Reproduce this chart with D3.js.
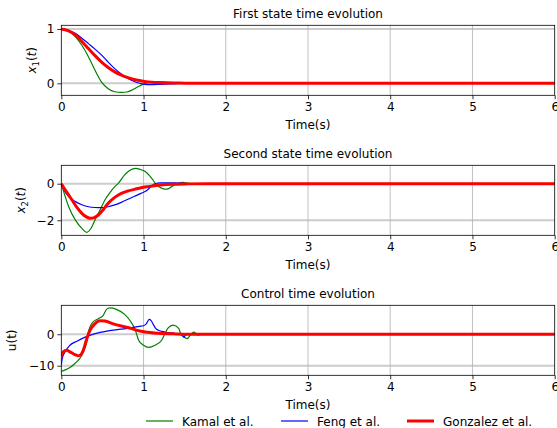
<!DOCTYPE html>
<html>
<head>
<meta charset="utf-8">
<script src="https://cdn.jsdelivr.net/npm/d3@7"></script>
<style>
  body { margin: 0; background: #fff; }
  text { font-family: "DejaVu Sans", sans-serif; }
</style>
</head>
<body>
<div id="chart"></div>
<script>
// time ticks shared by all three panels
var timeTicks = [0, 1, 2, 3, 4, 5, 6];

// first state x1(t)
var kamalX1T = [0, 0.05, 0.1, 0.17, 0.25, 0.33, 0.41, 0.49, 0.57, 0.65, 0.73, 0.8, 0.85, 0.95, 1.0, 1.07, 1.14, 1.25, 1.4, 1.6, 2, 6];
var kamalX1  = [1, 0.99, 0.96, 0.86, 0.70, 0.49, 0.24, 0.02, -0.10, -0.155, -0.168, -0.16, -0.13, -0.05, -0.015, 0.015, 0.03, 0.025, 0.01, 0, 0, 0];
var fengX1T  = [0, 0.08, 0.17, 0.25, 0.33, 0.41, 0.49, 0.57, 0.65, 0.73, 0.81, 0.88, 0.93, 1.0, 1.08, 1.2, 1.35, 1.5, 2, 6];
var fengX1   = [1, 0.98, 0.92, 0.83, 0.73, 0.63, 0.52, 0.39, 0.27, 0.17, 0.09, 0.04, 0.01, -0.015, -0.025, -0.02, -0.01, 0, 0, 0];
var gonzX1T  = [0, 0.08, 0.17, 0.25, 0.33, 0.41, 0.49, 0.57, 0.65, 0.73, 0.81, 0.93, 1.01, 1.1, 1.2, 1.35, 1.5, 1.8, 6];
var gonzX1   = [1, 0.97, 0.89, 0.77, 0.64, 0.51, 0.39, 0.29, 0.21, 0.15, 0.105, 0.055, 0.035, 0.02, 0.012, 0.006, 0.003, 0, 0];

// second state x2(t)
var kamalX2T = [0, 0.09, 0.17, 0.25, 0.31, 0.36, 0.41, 0.47, 0.53, 0.59, 0.65, 0.69, 0.77, 0.84, 0.9, 0.96, 1.02, 1.10, 1.16, 1.21, 1.26, 1.3, 1.34, 1.42, 1.48, 1.54, 1.6, 6];
var kamalX2  = [0, -1.26, -1.98, -2.44, -2.66, -2.45, -1.98, -1.45, -0.89, -0.50, -0.16, 0, 0.48, 0.75, 0.84, 0.78, 0.66, 0.29, -0.07, -0.22, -0.30, -0.28, -0.16, 0.02, 0.07, 0.02, 0, 0];
var fengX2T  = [0, 0.04, 0.09, 0.17, 0.25, 0.33, 0.41, 0.49, 0.57, 0.65, 0.73, 0.81, 0.89, 0.97, 1.03, 1.07, 1.1, 1.13, 1.17, 1.21, 1.29, 1.37, 1.45, 1.52, 6];
var fengX2   = [0, -0.4, -0.71, -0.98, -1.15, -1.26, -1.30, -1.31, -1.26, -1.16, -1.02, -0.85, -0.69, -0.53, -0.40, -0.25, -0.12, -0.02, 0.03, 0.05, 0.05, 0.05, 0.03, 0, 0];
var gonzX2T  = [0, 0.06, 0.13, 0.19, 0.25, 0.30, 0.35, 0.40, 0.45, 0.51, 0.57, 0.65, 0.73, 0.81, 0.89, 0.97, 1.05, 1.13, 1.21, 1.35, 1.54, 1.8, 6];
var gonzX2   = [0, -0.42, -0.89, -1.30, -1.62, -1.80, -1.89, -1.85, -1.71, -1.42, -1.07, -0.75, -0.53, -0.40, -0.31, -0.22, -0.16, -0.11, -0.07, -0.03, -0.01, 0, 0];

// control u(t)
var kamalUT = [0, 0.085, 0.166, 0.25, 0.29, 0.31, 0.32, 0.335, 0.37, 0.45, 0.51, 0.55, 0.59, 0.67, 0.77, 0.84, 0.90, 0.92, 0.94, 1.0, 1.06, 1.14, 1.22, 1.26, 1.30, 1.36, 1.43, 1.45, 1.49, 1.53, 1.57, 1.61, 1.64, 1.66, 1.7, 6];
var kamalU  = [-11.8, -10.9, -9.3, -6.7, -4.2, -2.4, -0.3, 1.3, 3.4, 4.95, 6.0, 7.9, 8.35, 7.9, 6.3, 4.2, 1.3, -0.3, -1.9, -3.5, -4.2, -3.5, -1.9, 0.2, 2.0, 2.9, 1.8, 0.2, -0.9, -1.4, -0.3, 0.7, 0.2, -0.3, 0, 0];
var fengUT  = [0, 0.012, 0.045, 0.105, 0.19, 0.29, 0.41, 0.57, 0.73, 0.875, 0.95, 1.0, 1.03, 1.07, 1.09, 1.12, 1.15, 1.18, 1.26, 1.385, 1.47, 1.49, 1.51, 1.55, 6];
var fengU   = [-9.8, -7.7, -5.6, -3.5, -2.2, -0.9, 0.2, 1.05, 1.6, 2.2, 2.5, 2.7, 3.2, 4.7, 4.4, 3.05, 1.8, 1.3, 0.7, 0.2, -0.3, -0.9, -0.3, 0, 0];
var gonzUT  = [0, 0.024, 0.065, 0.105, 0.166, 0.2, 0.227, 0.267, 0.31, 0.35, 0.41, 0.47, 0.53, 0.63, 0.73, 0.78, 0.855, 0.9, 1.02, 1.18, 1.4, 1.6, 2, 6];
var gonzU   = [-7.0, -5.6, -5.1, -5.6, -6.5, -6.8, -6.7, -5.1, -1.4, 1.3, 3.4, 4.3, 4.2, 3.3, 2.6, 2.3, 1.8, 1.4, 0.7, 0.3, 0.1, 0.03, 0, 0];

var seriesNames = ["Kamal et al.", "Feng et al.", "Gonzalez et al."];
var seriesColors = ["#008000", "#0000ff", "#ff0000"];
var seriesWidths = [1.2, 1.2, 3];

var width = 557, height = 428;
var left = 61.3, right = 554.7;

var svg = d3.select("#chart")
  .append("svg")
    .attr("width", width)
    .attr("height", height);

var x = d3.scaleLinear()
  .domain([0, 6])
  .range([left, right]);

function zip(ts, vs) {
  return ts.map(function (t, i) { return [t, vs[i]]; });
}

var panels = [
  { title: "First state time evolution", top: 25.3, domain: [-0.221, 1.068], ticks: [0, 1], label: "x1", labelX: 36,
    data: [zip(kamalX1T, kamalX1), zip(fengX1T, fengX1), zip(gonzX1T, gonzX1)] },
  { title: "Second state time evolution", top: 165.3, domain: [-2.82, 1.005], ticks: [-2, 0], label: "x2", labelX: 25,
    data: [zip(kamalX2T, kamalX2), zip(fengX2T, fengX2), zip(gonzX2T, gonzX2)] },
  { title: "Control time evolution", top: 305.3, domain: [-13.05, 9.2], ticks: [-10, 0], label: "u", labelX: 16,
    data: [zip(kamalUT, kamalU), zip(fengUT, fengU), zip(gonzUT, gonzU)] }
];
var panelH = 70;
var fmt = d3.format("d");

panels.forEach(function (p, pi) {
  var y = d3.scaleLinear()
    .domain(p.domain)
    .range([p.top + panelH, p.top]);

  var g = svg.append("g");

  g.append("clipPath")
      .attr("id", "clip" + pi)
    .append("rect")
      .attr("x", left)
      .attr("y", p.top)
      .attr("width", right - left)
      .attr("height", panelH);

  // grid
  g.selectAll(".hgrid")
    .data(p.ticks)
    .enter()
    .append("line")
      .attr("x1", left).attr("x2", right)
      .attr("y1", function (d) { return y(d); })
      .attr("y2", function (d) { return y(d); })
      .style("stroke", "#cccccc")
      .style("stroke-width", 2);
  g.selectAll(".vgrid")
    .data(timeTicks.slice(1, -1))
    .enter()
    .append("line")
      .attr("y1", p.top).attr("y2", p.top + panelH)
      .attr("x1", function (d) { return x(d); })
      .attr("x2", function (d) { return x(d); })
      .style("stroke", "#b0b0b0")
      .style("stroke-width", 0.8);

  var line = d3.line()
    .x(function (d) { return x(d[0]); })
    .y(function (d) { return y(d[1]); })
    .curve(d3.curveMonotoneX);

  g.append("g")
      .attr("clip-path", "url(#clip" + pi + ")")
    .selectAll("path")
    .data(p.data)
    .enter()
    .append("path")
      .attr("d", line)
      .style("fill", "none")
      .style("stroke", function (d, i) { return seriesColors[i]; })
      .style("stroke-width", function (d, i) { return seriesWidths[i]; })
      .style("stroke-linejoin", "round");

  // axes
  var xAxis = g.append("g")
    .attr("transform", "translate(0," + (p.top + panelH) + ")")
    .call(d3.axisBottom(x).tickValues(timeTicks).tickFormat(fmt).tickSize(4).tickPadding(3));
  var yAxis = g.append("g")
    .attr("transform", "translate(" + left + ",0)")
    .call(d3.axisLeft(y).tickValues(p.ticks).tickFormat(fmt).tickSize(4).tickPadding(3));
  [xAxis, yAxis].forEach(function (a) {
    a.select(".domain").remove();
    a.selectAll("text")
      .style("font-family", "DejaVu Sans")
      .style("font-size", "12px")
      .style("fill", "#000");
    a.selectAll("line").style("stroke", "#000").style("stroke-width", 0.8);
  });

  g.append("rect")
      .attr("x", left)
      .attr("y", p.top)
      .attr("width", right - left)
      .attr("height", panelH)
      .style("fill", "none")
      .style("stroke", "#000")
      .style("stroke-width", 0.8);

  g.append("text")
      .attr("x", (left + right) / 2)
      .attr("y", p.top - 7)
      .attr("text-anchor", "middle")
      .style("font-size", "12px")
      .text(p.title);

  g.append("text")
      .attr("x", (left + right) / 2)
      .attr("y", p.top + panelH + 34)
      .attr("text-anchor", "middle")
      .style("font-size", "12px")
      .text("Time(s)");

  var yl = g.append("text")
      .attr("transform", "translate(" + p.labelX + "," + (p.top + panelH / 2) + ") rotate(-90)")
      .attr("text-anchor", "middle")
      .style("font-size", "12px");
  if (p.label === "u") {
    yl.text("u(t)");
  } else {
    yl.append("tspan").style("font-style", "italic").text("x");
    yl.append("tspan").attr("dy", 3).style("font-size", "8.5px").text(p.label.slice(1));
    yl.append("tspan").attr("dy", -3).text("(");
    yl.append("tspan").style("font-style", "italic").text("t");
    yl.append("tspan").text(")");
  }
});

// legend
var legendX = [146, 281, 407];
var legend = svg.append("g")
  .selectAll("g")
  .data(seriesNames)
  .enter()
  .append("g")
    .attr("transform", function (d, i) { return "translate(" + legendX[i] + ",421)"; });
legend.append("line")
    .attr("x1", 0).attr("x2", 27)
    .style("stroke", function (d, i) { return seriesColors[i]; })
    .style("stroke-width", function (d, i) { return seriesWidths[i]; });
legend.append("text")
    .attr("x", 36)
    .attr("y", 4.5)
    .style("font-size", "12px")
    .text(function (d) { return d; });
</script>
</body>
</html>
